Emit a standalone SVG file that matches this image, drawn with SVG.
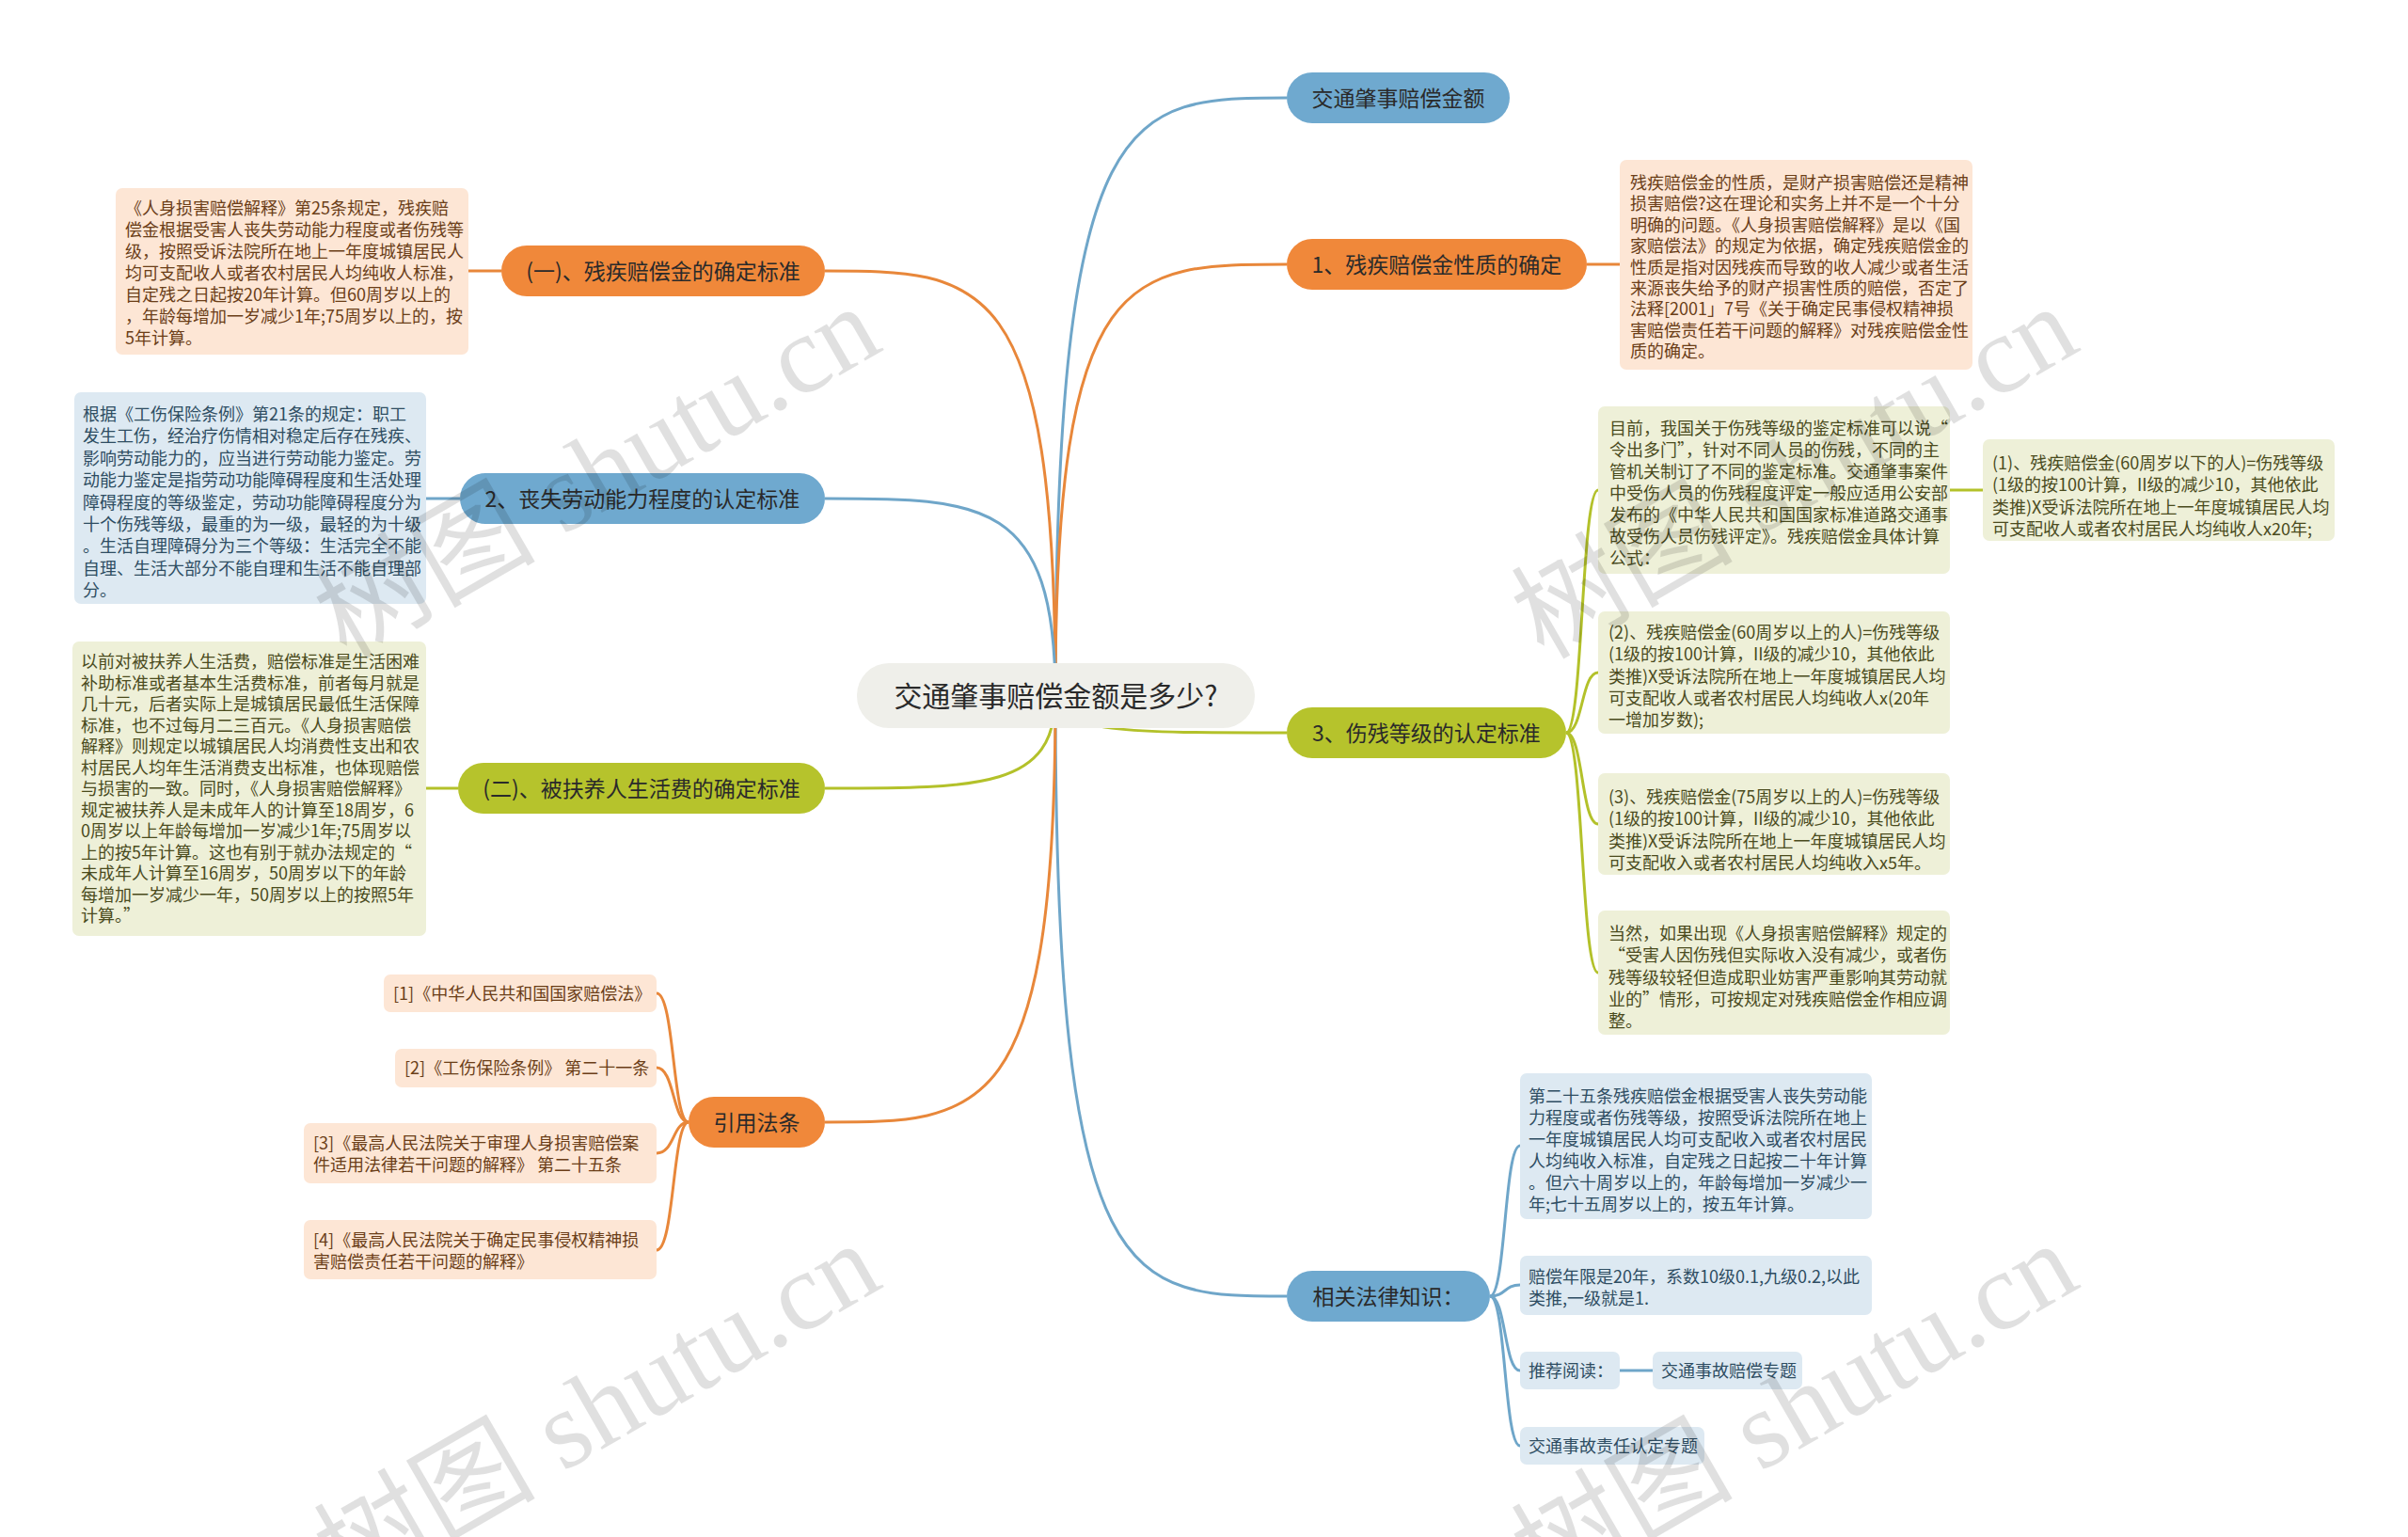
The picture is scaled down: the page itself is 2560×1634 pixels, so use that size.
<svg xmlns="http://www.w3.org/2000/svg" width="2560" height="1634" viewBox="0 0 2560 1634">
<style>
.pb{fill:#6fa9cf}.po{fill:#f0883a}.pg{fill:#b6c32c}
.pt{font-family:"Noto Sans CJK SC",sans-serif;font-size:23px;fill:#2a2a2a;text-anchor:middle}
.bo{fill:#fde6d5}.bb{fill:#dde9f2}.bg{fill:#eef0d8}
.t{font-family:"Noto Sans CJK SC",sans-serif;font-size:18px}
.to{fill:#6b3e18}.tb{fill:#2e4d62}.tg{fill:#4a4b1d}
.lo{stroke:#e8873a;fill:none;stroke-width:3}
.lb{stroke:#6fa6c9;fill:none;stroke-width:3}
.lg{stroke:#b3c12a;fill:none;stroke-width:3}
.wm{font-family:"Liberation Serif","Noto Sans CJK SC",serif;font-size:118px;fill:#000;fill-opacity:0.12}
</style>
<rect width="2560" height="1634" fill="#ffffff"/>
<g id="connectors">
<path class="lb" d="M1122 740 C1122 104 1200 104 1368 104"/>
<path class="lo" d="M1122 740 C1122 281 1200 281 1368 281"/>
<path class="lg" d="M1122 740 C1122 779 1200 779 1368 779"/>
<path class="lb" d="M1122 740 C1122 1378 1200 1378 1368 1378"/>
<path class="lo" d="M1122 740 C1122 288 1044 288 877 288"/>
<path class="lb" d="M1122 740 C1122 530 1044 530 877 530"/>
<path class="lg" d="M1122 740 C1122 838 1044 838 877 838"/>
<path class="lo" d="M1122 740 C1122 1193 1044 1193 877 1193"/>
<path class="lo" d="M1687 281 L1722 281"/>
<path class="lo" d="M533 288 L498 288"/>
<path class="lb" d="M489 530 L453 530"/>
<path class="lg" d="M487 838 L453 838"/>
<path class="lg" d="M1665 779 C1683 779 1681 521 1699 521"/>
<path class="lg" d="M1665 779 C1683 779 1681 715 1699 715"/>
<path class="lg" d="M1665 779 C1683 779 1681 876 1699 876"/>
<path class="lg" d="M1665 779 C1683 779 1681 1034 1699 1034"/>
<path class="lg" d="M2073 521 L2108 521"/>
<path class="lb" d="M1584 1378 C1601 1378 1599 1218 1616 1218"/>
<path class="lb" d="M1584 1378 C1601 1378 1599 1366 1616 1366"/>
<path class="lb" d="M1584 1378 C1601 1378 1599 1457 1616 1457"/>
<path class="lb" d="M1584 1378 C1601 1378 1599 1537 1616 1537"/>
<path class="lb" d="M1722 1457 L1757 1457"/>
<path class="lo" d="M732 1193 C715 1193 717 1056 698 1056"/>
<path class="lo" d="M732 1193 C715 1193 717 1135 698 1135"/>
<path class="lo" d="M732 1193 C715 1193 717 1226 698 1226"/>
<path class="lo" d="M732 1193 C715 1193 717 1329 698 1329"/>
</g>
<g id="root">
<rect x="911" y="705" width="423" height="69" rx="34" fill="#efefea"/>
<text x="1122.5" y="751" font-family="Noto Sans CJK SC, sans-serif" font-size="30" fill="#2a2a2a" text-anchor="middle">交通肇事赔偿金额是多少?</text>
</g>
<g id="n-amount"><rect class="pb" x="1368" y="77" width="237" height="54" rx="27"/><text class="pt" x="1486.5" y="112.7">交通肇事赔偿金额</text></g>
<g id="n-nature"><rect class="po" x="1368" y="254" width="319" height="54" rx="27"/><text class="pt" x="1527.5" y="289.7">1、残疾赔偿金性质的确定</text></g>
<g id="n-grade"><rect class="pg" x="1368" y="752" width="297" height="54" rx="27"/><text class="pt" x="1516.5" y="787.7">3、伤残等级的认定标准</text></g>
<g id="n-law"><rect class="pb" x="1368" y="1351" width="216" height="54" rx="27"/><text class="pt" x="1476" y="1386.7">相关法律知识：</text></g>
<g id="n-std1"><rect class="po" x="533" y="261" width="344" height="54" rx="27"/><text class="pt" x="705" y="296.7">(一)、残疾赔偿金的确定标准</text></g>
<g id="n-labor"><rect class="pb" x="489" y="503" width="388" height="54" rx="27"/><text class="pt" x="683" y="538.7">2、丧失劳动能力程度的认定标准</text></g>
<g id="n-std2"><rect class="pg" x="487" y="811" width="390" height="54" rx="27"/><text class="pt" x="682" y="846.7">(二)、被扶养人生活费的确定标准</text></g>
<g id="n-ref"><rect class="po" x="732" y="1166" width="145" height="54" rx="27"/><text class="pt" x="804.5" y="1201.7">引用法条</text></g>

<g id="d-std1"><rect class="bo" x="123" y="200" width="375" height="177" rx="7"/>
<text class="t to" x="133"><tspan x="133" y="228">《人身损害赔偿解释》第25条规定，残疾赔</tspan><tspan x="133" y="251">偿金根据受害人丧失劳动能力程度或者伤残等</tspan><tspan x="133" y="274">级，按照受诉法院所在地上一年度城镇居民人</tspan><tspan x="133" y="297">均可支配收人或者农村居民人均纯收人标准，</tspan><tspan x="133" y="320">自定残之日起按20年计算。但60周岁以上的</tspan><tspan x="133" y="343">，年龄每增加一岁减少1年;75周岁以上的，按</tspan><tspan x="133" y="366">5年计算。</tspan></text></g>

<g id="d-labor"><rect class="bb" x="79" y="417" width="374" height="225" rx="7"/>
<text class="t tb"><tspan x="88" y="447">根据《工伤保险条例》第21条的规定：职工</tspan><tspan x="88" y="470.4">发生工伤，经治疗伤情相对稳定后存在残疾、</tspan><tspan x="88" y="493.8">影响劳动能力的，应当进行劳动能力鉴定。劳</tspan><tspan x="88" y="517.2">动能力鉴定是指劳动功能障碍程度和生活处理</tspan><tspan x="88" y="540.6">障碍程度的等级鉴定，劳动功能障碍程度分为</tspan><tspan x="88" y="564">十个伤残等级，最重的为一级，最轻的为十级</tspan><tspan x="88" y="587.4">。生活自理障碍分为三个等级：生活完全不能</tspan><tspan x="88" y="610.8">自理、生活大部分不能自理和生活不能自理部</tspan><tspan x="88" y="634.2">分。</tspan></text></g>

<g id="d-std2"><rect class="bg" x="77" y="682" width="376" height="313" rx="7"/>
<text class="t tg"><tspan x="86" y="710">以前对被扶养人生活费，赔偿标准是生活困难</tspan><tspan x="86" y="732.5">补助标准或者基本生活费标准，前者每月就是</tspan><tspan x="86" y="755">几十元，后者实际上是城镇居民最低生活保障</tspan><tspan x="86" y="777.5">标准，也不过每月二三百元。《人身损害赔偿</tspan><tspan x="86" y="800">解释》则规定以城镇居民人均消费性支出和农</tspan><tspan x="86" y="822.5">村居民人均年生活消费支出标准，也体现赔偿</tspan><tspan x="86" y="845">与损害的一致。同时，《人身损害赔偿解释》</tspan><tspan x="86" y="867.5">规定被扶养人是未成年人的计算至18周岁，6</tspan><tspan x="86" y="890">0周岁以上年龄每增加一岁减少1年;75周岁以</tspan><tspan x="86" y="912.5">上的按5年计算。这也有别于就办法规定的“</tspan><tspan x="86" y="935">未成年人计算至16周岁，50周岁以下的年龄</tspan><tspan x="86" y="957.5">每增加一岁减少一年，50周岁以上的按照5年</tspan><tspan x="86" y="980">计算。”</tspan></text></g>

<g id="d-nature"><rect class="bo" x="1722" y="170" width="375" height="223" rx="7"/>
<text class="t to"><tspan x="1733" y="201">残疾赔偿金的性质，是财产损害赔偿还是精神</tspan><tspan x="1733" y="223.4">损害赔偿?这在理论和实务上并不是一个十分</tspan><tspan x="1733" y="245.8">明确的问题。《人身损害赔偿解释》是以《国</tspan><tspan x="1733" y="268.2">家赔偿法》的规定为依据，确定残疾赔偿金的</tspan><tspan x="1733" y="290.6">性质是指对因残疾而导致的收人减少或者生活</tspan><tspan x="1733" y="313">来源丧失给予的财产损害性质的赔偿，否定了</tspan><tspan x="1733" y="335.4">法释[2001」7号《关于确定民事侵权精神损</tspan><tspan x="1733" y="357.8">害赔偿责任若干问题的解释》对残疾赔偿金性</tspan><tspan x="1733" y="380.2">质的确定。</tspan></text></g>

<g id="d-grade0"><rect class="bg" x="1699" y="432" width="374" height="178" rx="7"/>
<text class="t tg"><tspan x="1711" y="462">目前，我国关于伤残等级的鉴定标准可以说“</tspan><tspan x="1711" y="485">令出多门”，针对不同人员的伤残，不同的主</tspan><tspan x="1711" y="508">管机关制订了不同的鉴定标准。交通肇事案件</tspan><tspan x="1711" y="531">中受伤人员的伤残程度评定一般应适用公安部</tspan><tspan x="1711" y="554">发布的《中华人民共和国国家标准道路交通事</tspan><tspan x="1711" y="577">故受伤人员伤残评定》。残疾赔偿金具体计算</tspan><tspan x="1711" y="600">公式：</tspan></text></g>

<g id="d-grade1"><rect class="bg" x="2108" y="467" width="374" height="108" rx="7"/>
<text class="t tg"><tspan x="2118" y="499">(1)、残疾赔偿金(60周岁以下的人)=伤残等级</tspan><tspan x="2118" y="522.3">(1级的按100计算，II级的减少10，其他依此</tspan><tspan x="2118" y="545.6">类推)X受诉法院所在地上一年度城镇居民人均</tspan><tspan x="2118" y="568.9">可支配收人或者农村居民人均纯收人x20年;</tspan></text></g>

<g id="d-grade2"><rect class="bg" x="1699" y="650" width="374" height="130" rx="7"/>
<text class="t tg"><tspan x="1710" y="679">(2)、残疾赔偿金(60周岁以上的人)=伤残等级</tspan><tspan x="1710" y="702.3">(1级的按100计算，II级的减少10，其他依此</tspan><tspan x="1710" y="725.6">类推)X受诉法院所在地上一年度城镇居民人均</tspan><tspan x="1710" y="748.9">可支配收人或者农村居民人均纯收人x(20年</tspan><tspan x="1710" y="772.2">一增加岁数);</tspan></text></g>

<g id="d-grade3"><rect class="bg" x="1699" y="822" width="374" height="108" rx="7"/>
<text class="t tg"><tspan x="1710" y="854">(3)、残疾赔偿金(75周岁以上的人)=伤残等级</tspan><tspan x="1710" y="877.3">(1级的按100计算，II级的减少10，其他依此</tspan><tspan x="1710" y="900.6">类推)X受诉法院所在地上一年度城镇居民人均</tspan><tspan x="1710" y="923.9">可支配收入或者农村居民人均纯收入x5年。</tspan></text></g>

<g id="d-grade4"><rect class="bg" x="1699" y="968" width="374" height="132" rx="7"/>
<text class="t tg"><tspan x="1710" y="999">当然，如果出现《人身损害赔偿解释》规定的</tspan><tspan x="1710" y="1022.3">“受害人因伤残但实际收入没有减少，或者伤</tspan><tspan x="1710" y="1045.6">残等级较轻但造成职业妨害严重影响其劳动就</tspan><tspan x="1710" y="1068.9">业的”情形，可按规定对残疾赔偿金作相应调</tspan><tspan x="1710" y="1092.2">整。</tspan></text></g>

<g id="d-law1"><rect class="bb" x="1616" y="1141" width="374" height="155" rx="7"/>
<text class="t tb"><tspan x="1625" y="1172">第二十五条残疾赔偿金根据受害人丧失劳动能</tspan><tspan x="1625" y="1195">力程度或者伤残等级，按照受诉法院所在地上</tspan><tspan x="1625" y="1218">一年度城镇居民人均可支配收入或者农村居民</tspan><tspan x="1625" y="1241">人均纯收入标准，自定残之日起按二十年计算</tspan><tspan x="1625" y="1264">。但六十周岁以上的，年龄每增加一岁减少一</tspan><tspan x="1625" y="1287">年;七十五周岁以上的，按五年计算。</tspan></text></g>

<g id="d-law2"><rect class="bb" x="1616" y="1335" width="374" height="63" rx="7"/>
<text class="t tb"><tspan x="1625" y="1364">赔偿年限是20年，系数10级0.1,九级0.2,以此</tspan><tspan x="1625" y="1387">类推,一级就是1.</tspan></text></g>

<g id="d-read"><rect class="bb" x="1616" y="1437" width="106" height="40" rx="7"/><text class="t tb" x="1625" y="1464">推荐阅读：</text></g>
<g id="d-read1"><rect class="bb" x="1757" y="1437" width="159" height="40" rx="7"/><text class="t tb" x="1766" y="1464">交通事故赔偿专题</text></g>
<g id="d-read2"><rect class="bb" x="1616" y="1517" width="196" height="40" rx="7"/><text class="t tb" x="1625" y="1544">交通事故责任认定专题</text></g>

<g id="r1"><rect class="bo" x="408" y="1036" width="290" height="40" rx="7"/><text class="t to" x="418" y="1063">[1]《中华人民共和国国家赔偿法》</text></g>
<g id="r2"><rect class="bo" x="420" y="1115" width="278" height="41" rx="7"/><text class="t to" x="430" y="1142">[2]《工伤保险条例》 第二十一条</text></g>
<g id="r3"><rect class="bo" x="323" y="1194" width="375" height="64" rx="7"/><text class="t to"><tspan x="333" y="1222">[3]《最高人民法院关于审理人身损害赔偿案</tspan><tspan x="333" y="1245">件适用法律若干问题的解释》 第二十五条</tspan></text></g>
<g id="r4"><rect class="bo" x="323" y="1297" width="375" height="63" rx="7"/><text class="t to"><tspan x="333" y="1325">[4]《最高人民法院关于确定民事侵权精神损</tspan><tspan x="333" y="1348">害赔偿责任若干问题的解释》</tspan></text></g>

<g id="watermarks">
<text class="wm" transform="translate(368 702) rotate(-30)">树图 shutu.cn</text>
<text class="wm" transform="translate(1641 702) rotate(-30)">树图 shutu.cn</text>
<text class="wm" transform="translate(368 1698) rotate(-30)">树图 shutu.cn</text>
<text class="wm" transform="translate(1641 1698) rotate(-30)">树图 shutu.cn</text>
</g>
</svg>
